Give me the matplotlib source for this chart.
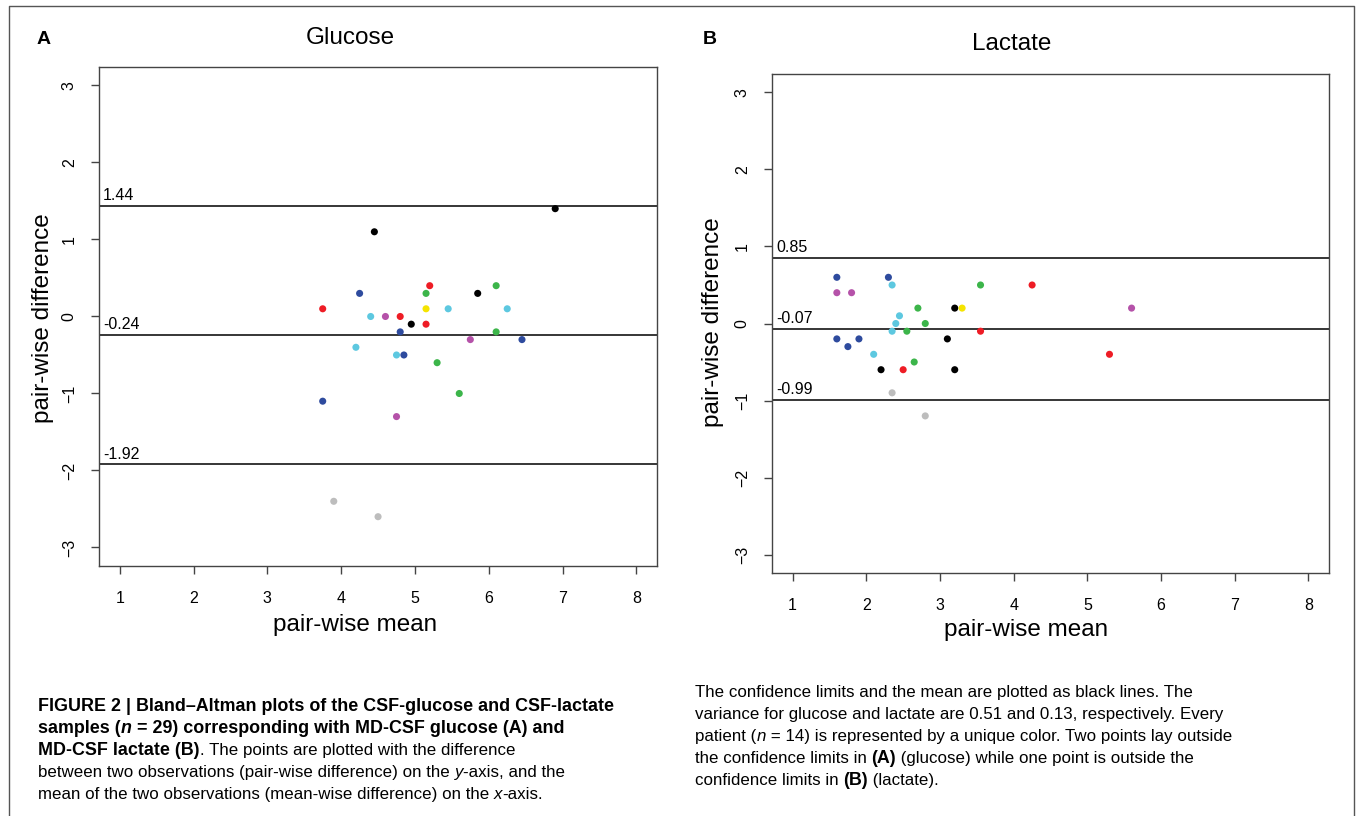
import matplotlib
matplotlib.use("Agg")
import matplotlib.pyplot as plt
from matplotlib.lines import Line2D

# -----------------------------
# Data
# -----------------------------
PALETTE = {
    "red": "#ee1c25", "blue": "#2e4b9e", "cyan": "#5dc8e0", "magenta": "#b552a9",
    "green": "#3cb54a", "black": "#000000", "yellow": "#f5e400", "gray": "#bdbdbd",
}

glu_mean = [3.75, 3.75, 4.25, 4.45, 4.40, 4.60, 4.80, 4.80, 4.95, 5.20,
            5.15, 5.15, 5.15, 5.45, 5.85, 6.10, 6.10, 6.25, 5.75, 6.45,
            6.90, 4.20, 4.75, 4.85, 5.30, 5.60, 4.75, 3.90, 4.50]
glu_diff = [0.1, -1.1, 0.3, 1.1, 0.0, 0.0, 0.0, -0.2, -0.1, 0.4,
            0.3, 0.1, -0.1, 0.1, 0.3, 0.4, -0.2, 0.1, -0.3, -0.3,
            1.4, -0.4, -0.5, -0.5, -0.6, -1.0, -1.3, -2.4, -2.6]
glu_color = ["red", "blue", "blue", "black", "cyan", "magenta", "red", "blue", "black", "red",
             "green", "yellow", "red", "cyan", "black", "green", "green", "cyan", "magenta", "blue",
             "black", "cyan", "cyan", "blue", "green", "green", "magenta", "gray", "gray"]
glu_limits = [1.44, -0.24, -1.92]

lac_mean = [1.60, 2.30, 2.35, 1.60, 1.80, 3.55, 2.70, 3.20, 3.30, 2.45,
            2.40, 2.80, 2.35, 2.55, 3.55, 1.60, 1.90, 3.10, 1.75, 2.10,
            2.65, 2.20, 2.50, 3.20, 2.35, 2.80, 4.25, 5.60, 5.30]
lac_diff = [0.6, 0.6, 0.5, 0.4, 0.4, 0.5, 0.2, 0.2, 0.2, 0.1,
            0.0, 0.0, -0.1, -0.1, -0.1, -0.2, -0.2, -0.2, -0.3, -0.4,
            -0.5, -0.6, -0.6, -0.6, -0.9, -1.2, 0.5, 0.2, -0.4]
lac_color = ["blue", "blue", "cyan", "magenta", "magenta", "green", "green", "black", "yellow", "cyan",
             "cyan", "green", "cyan", "green", "red", "blue", "blue", "black", "blue", "cyan",
             "green", "black", "red", "black", "gray", "gray", "red", "magenta", "red"]
lac_limits = [0.85, -0.07, -0.99]

x_ticks = [1, 2, 3, 4, 5, 6, 7, 8]
y_ticks = [-3, -2, -1, 0, 1, 2, 3]

FONT = ["Liberation Sans", "DejaVu Sans"]
plt.rcParams["font.family"] = FONT

W, H = 1357, 816
fig = plt.figure(figsize=(W / 100, H / 100), dpi=100)


def px(x, y):
    """pixel position (from top-left) -> figure fraction"""
    return x / W, 1 - y / H


def bland_altman(ax, means, diffs, colors, limits):
    ax.scatter(means, diffs, s=26, c=[PALETTE[c] for c in colors],
               linewidths=0, zorder=3)
    for val in limits:
        ax.axhline(val, color="black", lw=1.1, zorder=2)
        ax.annotate(f"{val:.2f}", xy=(0, val), xycoords=("axes fraction", "data"),
                    xytext=(3, 2), textcoords="offset points",
                    ha="left", va="bottom", fontsize=11.5)
    ax.set_xlim(0.72, 8.28)
    ax.set_ylim(-3.24, 3.24)
    ax.set_xticks(x_ticks)
    ax.set_yticks(y_ticks)
    ax.tick_params(axis="x", direction="out", length=6, width=1, color="#444444",
                   labelsize=11.5, pad=12)
    ax.tick_params(axis="y", direction="out", length=6, width=1, color="#444444",
                   labelsize=11.5, pad=10)
    for lbl in ax.get_yticklabels():
        lbl.set_rotation(90)
        lbl.set_va("center")
    for sp in ax.spines.values():
        sp.set_color("#444444")
        sp.set_linewidth(1.0)


ax1 = fig.add_axes([0.0730, 0.3064, 0.4112, 0.6115])
bland_altman(ax1, glu_mean, glu_diff, glu_color, glu_limits)
ax2 = fig.add_axes([0.5689, 0.2978, 0.4105, 0.6115])
bland_altman(ax2, lac_mean, lac_diff, lac_color, lac_limits)

# titles, axis labels and panel letters (placed as in the composed figure)
fig.text(*px(350, 38), "Glucose", fontsize=17.5, ha="center", va="center")
fig.text(*px(1012, 44), "Lactate", fontsize=17.5, ha="center", va="center")
fig.text(*px(355, 625), "pair-wise mean", fontsize=17.5, ha="center", va="center")
fig.text(*px(1026, 630), "pair-wise mean", fontsize=17.5, ha="center", va="center")
fig.text(*px(43, 318), "pair-wise difference", fontsize=17.5, rotation=90,
         ha="center", va="center")
fig.text(*px(713, 322), "pair-wise difference", fontsize=17.5, rotation=90,
         ha="center", va="center")
fig.text(*px(37, 40), "A", fontsize=14, fontweight="bold", va="center")
fig.text(*px(703, 40), "B", fontsize=14, fontweight="bold", va="center")

# outer frame (left, top, right)
fig.add_artist(Line2D([9 / W, 9 / W, 1354 / W, 1354 / W],
                      [0, 1 - 6 / H, 1 - 6 / H, 0],
                      transform=fig.transFigure, color="#555555", lw=1))

# -----------------------------
# Caption with mixed styles
# -----------------------------
renderer = fig.canvas.get_renderer()
SIZE = {"normal": 12.2, "bold": 12.9}


def rich_line(x_px, y_px, pieces):
    x, y = px(x_px, y_px)
    for txt, weight, style in pieces:
        t = fig.text(x, y, txt, fontsize=SIZE[weight], fontweight=weight,
                     fontstyle=style, va="baseline", ha="left")
        bb = t.get_window_extent(renderer=renderer)
        x = bb.x1 / fig.bbox.width


left_lines = [
    [("FIGURE 2 | Bland–Altman plots of the CSF-glucose and CSF-lactate", "bold", "normal")],
    [("samples (", "bold", "normal"), ("n", "bold", "italic"),
     (" = 29) corresponding with MD-CSF glucose (A) and", "bold", "normal")],
    [("MD-CSF lactate (B)", "bold", "normal"),
     (". The points are plotted with the difference", "normal", "normal")],
    [("between two observations (pair-wise difference) on the ", "normal", "normal"),
     ("y", "normal", "italic"), ("-axis, and the", "normal", "normal")],
    [("mean of the two observations (mean-wise difference) on the ", "normal", "normal"),
     ("x", "normal", "italic"), ("-axis.", "normal", "normal")],
]
right_lines = [
    [("The confidence limits and the mean are plotted as black lines. The", "normal", "normal")],
    [("variance for glucose and lactate are 0.51 and 0.13, respectively. Every", "normal", "normal")],
    [("patient (", "normal", "normal"), ("n", "normal", "italic"),
     (" = 14) is represented by a unique color. Two points lay outside", "normal", "normal")],
    [("the confidence limits in ", "normal", "normal"), ("(A)", "bold", "normal"),
     (" (glucose) while one point is outside the", "normal", "normal")],
    [("confidence limits in ", "normal", "normal"), ("(B)", "bold", "normal"),
     (" (lactate).", "normal", "normal")],
]

for i, line in enumerate(left_lines):
    rich_line(38, 711 + 22 * i, line)
for i, line in enumerate(right_lines):
    rich_line(695, 697 + 22 * i, line)

fig.savefig("out.png", dpi=100)
